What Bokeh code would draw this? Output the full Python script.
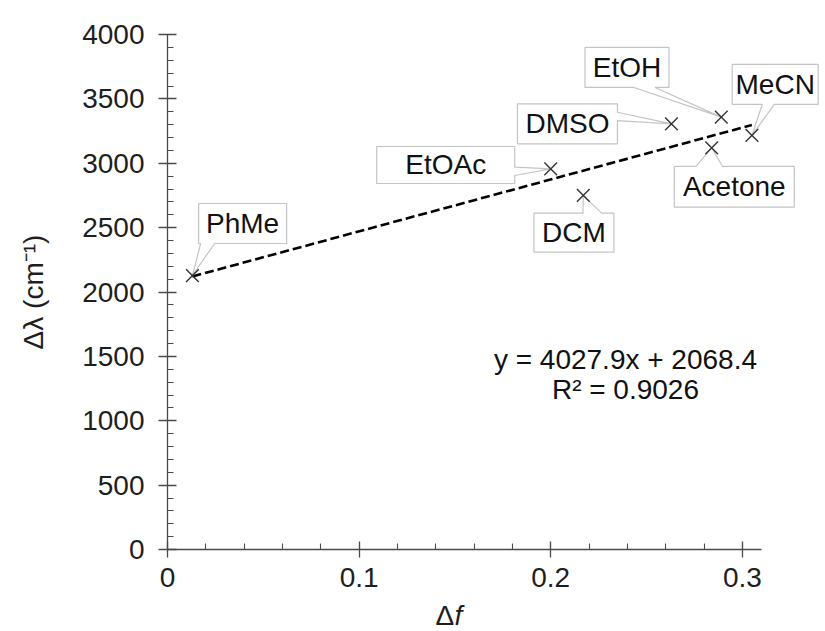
from bokeh.plotting import figure
from bokeh.models import Range1d, FixedTicker, Label, ColumnDataSource
from bokeh.core.properties import value
from bokeh.embed import file_html
from bokeh.resources import INLINE

# ---- data ----
solvents = ["PhMe", "EtOAc", "DCM", "DMSO", "Acetone", "EtOH", "MeCN"]
delta_f = [0.013, 0.200, 0.217, 0.263, 0.284, 0.289, 0.305]
delta_lambda = [2128, 2957, 2750, 3306, 3120, 3358, 3216]
fit_slope = 4027.9
fit_intercept = 2068.4
fit_r2 = 0.9026
x_ticks = [0, 0.1, 0.2, 0.3]
y_ticks = [0, 500, 1000, 1500, 2000, 2500, 3000, 3500, 4000]

FONT = "Liberation Sans"
FS = "28px"

# ---- geometry: the canvas is the frame; the axes sit at data 0 ----
W, H = 825, 631
X_END, Y_END = 0.31, 4000
PX0, PY0 = 167, 549          # pixel of the data origin
SX = 594 / X_END             # px per x unit
SY = 515 / Y_END             # px per y unit

p = figure(frame_width=W, frame_height=H,
           x_range=Range1d(-PX0 / SX, (W - PX0) / SX),
           y_range=Range1d(-(H - PY0) / SY, PY0 / SY),
           output_backend="svg", toolbar_location=None,
           min_border_left=0, min_border_right=0,
           min_border_top=0, min_border_bottom=0)
p.outline_line_color = None
p.xgrid.visible = False
p.ygrid.visible = False
p.background_fill_color = "white"
p.border_fill_color = "white"

AX = "#4a4a4a"
for ax in (p.xaxis[0], p.yaxis[0]):
    ax.fixed_location = 0
    ax.axis_line_color = AX
    ax.axis_line_width = 1.3
    ax.major_tick_line_color = AX
    ax.minor_tick_line_color = AX
    ax.major_tick_line_width = 1.3
    ax.minor_tick_line_width = 1.1
    ax.major_label_text_font = FONT
    ax.major_label_text_font_size = FS
    ax.major_label_text_color = "#1e1e1e"

p.xaxis.bounds = (0, X_END)
p.xaxis.ticker = FixedTicker(ticks=x_ticks,
                             minor_ticks=[i * 0.02 for i in range(16)])
p.xaxis.major_label_overrides = {0: "0", 0.1: "0.1", 0.2: "0.2", 0.3: "0.3"}
p.xaxis.major_tick_in = 8
p.xaxis.major_tick_out = 8
p.xaxis.minor_tick_in = 6
p.xaxis.minor_tick_out = 0
p.xaxis.major_label_standoff = 10

p.yaxis.bounds = (0, Y_END)
p.yaxis.ticker = FixedTicker(ticks=y_ticks,
                             minor_ticks=list(range(0, 4001, 100)))
p.yaxis.major_tick_in = 9
p.yaxis.major_tick_out = 9
p.yaxis.minor_tick_in = 6
p.yaxis.minor_tick_out = 0
p.yaxis.major_label_standoff = 14
p.yaxis.axis_label = "Δλ (cm⁻¹)"
p.yaxis.axis_label_text_font = FONT
p.yaxis.axis_label_text_font_size = FS
p.yaxis.axis_label_text_font_style = "normal"
p.yaxis.axis_label_text_color = "#1e1e1e"
p.yaxis.axis_label_standoff = 30

# ---- trendline ----
x_lo, x_hi = min(delta_f), max(delta_f)
p.line([x_lo, x_hi], [fit_slope * x_lo + fit_intercept, fit_slope * x_hi + fit_intercept],
       line_color="black", line_width=2.6, line_dash="9 4")

# ---- callouts (layout in pixels relative to each point) ----
layout = {
    "PhMe":    (50.2, -52.0, 88, 40, "bottom", 2, 16),
    "EtOAc":   (-105.0, -3.8, 138, 37, "right", 20.7, 29),
    "DMSO":    (-104.0, 0.0, 100, 40, "right", 8.4, 16.7),
    "EtOH":    (-94.3, -49.7, 84, 40, "bottom", 49, 70),
    "MeCN":    (23.3, -51.0, 86, 40, "bottom", 30, 42),
    "Acetone": (22.6, 39.0, 120, 40.7, "top", 21.7, 48.3),
    "DCM":     (-9.4, 37.2, 80, 39, "top", 49, 67.7),
}
xs, ys, tx, ty = [], [], [], []
for name, x0, y0 in zip(solvents, delta_f, delta_lambda):
    dx, dy, w, h, side, a, b = layout[name]
    L, R, T, B = dx - w / 2, dx + w / 2, dy - h / 2, dy + h / 2
    tip = (0.0, 0.0)
    if side == "bottom":
        pts = [(L, T), (R, T), (R, B), (L + b, B), tip, (L + a, B), (L, B)]
    elif side == "top":
        pts = [(L, T), (L + a, T), tip, (L + b, T), (R, T), (R, B), (L, B)]
    elif side == "right":
        pts = [(L, T), (R, T), (R, T + a), tip, (R, T + b), (R, B), (L, B)]
    else:
        pts = [(L, T), (R, T), (R, B), (L, B), (L, T + b), tip, (L, T + a)]
    xs.append([x0 + ox / SX for ox, oy in pts])
    ys.append([y0 - oy / SY for ox, oy in pts])
    tx.append(x0 + dx / SX)
    ty.append(y0 - dy / SY)

p.patches(xs, ys, fill_color="white", line_color="#c4c4c4", line_width=1.2)
p.text(x=tx, y=ty, text=solvents, text_font=value(FONT), text_font_size=FS,
       text_align="center", text_baseline="middle", text_color="#111111")

# ---- markers ----
src = ColumnDataSource(dict(x=delta_f, y=delta_lambda))
p.scatter("x", "y", source=src, marker="x", size=18, line_color="#333333", line_width=1.4)

# ---- equation ----
eq1 = f"y = {fit_slope}x + {fit_intercept}"
eq2 = f"R² = {fit_r2}"
for txt, yy in ((eq1, 1478), (eq2, 1244)):
    p.add_layout(Label(x=0.239, y=yy, text=txt, text_font=FONT, text_font_size=FS,
                       text_align="center", text_baseline="middle", text_color="#111111"))

# ---- x axis title: Δf with italic f ----
ty_title = -(615 - PY0) / SY
p.add_layout(Label(x=(435 - PX0) / SX, y=ty_title, text="Δ", text_font=FONT,
                   text_font_size=FS, text_align="left", text_baseline="middle",
                   text_color="#1e1e1e"))
p.add_layout(Label(x=(454 - PX0) / SX, y=ty_title, text="f", text_font=FONT,
                   text_font_size=FS, text_font_style="italic",
                   text_align="left", text_baseline="middle", text_color="#1e1e1e"))

open("out.html", "w").write(file_html(p, INLINE))
